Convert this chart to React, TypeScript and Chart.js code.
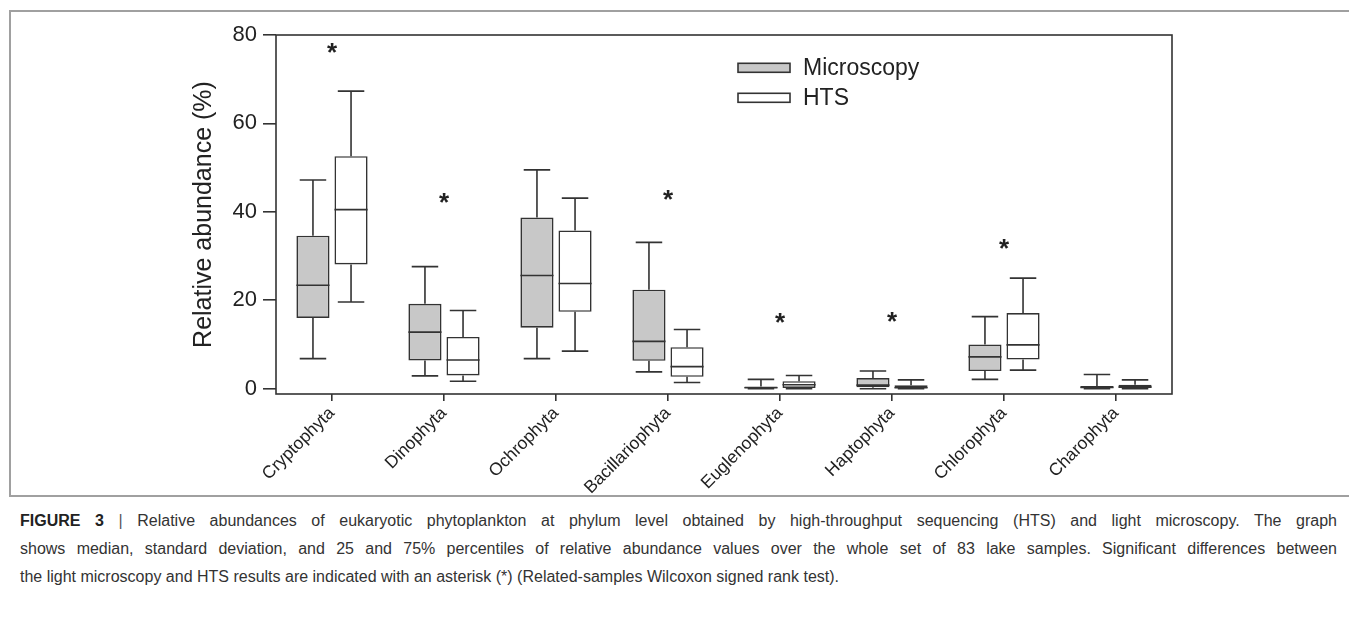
import React, { useEffect, useRef } from "react";
import { Chart, registerables } from "chart.js";
Chart.register(...registerables);

const categories = ["Cryptophyta", "Dinophyta", "Ochrophyta", "Bacillariophyta", "Euglenophyta", "Haptophyta", "Chlorophyta", "Charophyta"];
const yTicks = [0, 20, 40, 60, 80];
const seriesLabels = ["Microscopy", "HTS"];

const microMin = [6.8, 2.9, 6.8, 3.8, 0.0, 0.0, 2.1, 0.0];
const microQ1 = [16.0, 6.4, 13.8, 6.3, 0.0, 0.3, 4.0, 0.0];
const microMedian = [23.4, 12.8, 25.6, 10.7, 0.2, 0.8, 7.2, 0.3];
const microQ3 = [34.6, 19.2, 38.7, 22.4, 0.5, 2.4, 10.0, 0.6];
const microMax = [47.2, 27.6, 49.5, 33.1, 2.1, 4.0, 16.3, 3.2];

const htsMin = [19.6, 1.7, 8.5, 1.4, 0.0, 0.0, 4.2, 0.0];
const htsQ1 = [28.1, 3.0, 17.4, 2.7, 0.0, 0.0, 6.6, 0.0];
const htsMedian = [40.5, 6.5, 23.8, 5.0, 0.9, 0.2, 9.9, 0.4];
const htsQ3 = [52.6, 11.7, 35.8, 9.4, 1.7, 0.8, 17.1, 0.9];
const htsMax = [67.3, 17.7, 43.1, 13.4, 3.0, 2.0, 25.0, 2.0];

const asterisks = [77.3, 43.5, null, 44.2, 16.4, 16.5, 33.0, null];

const stats = [
  { min: microMin, q1: microQ1, med: microMedian, q3: microQ3, max: microMax },
  { min: htsMin, q1: htsQ1, med: htsMedian, q3: htsQ3, max: htsMax },
];

const INK = "#333333";
const FONT = "'Liberation Sans', Arial, sans-serif";

const boxPlugin = {
  id: "boxWhiskers",
  afterDatasetsDraw(chart: any) {
    const { ctx, scales } = chart;
    const y = scales.y;
    const x = scales.x;
    ctx.save();
    ctx.strokeStyle = INK;
    ctx.lineWidth = 1.6;
    chart.data.datasets.forEach((_ds: any, di: number) => {
      const meta = chart.getDatasetMeta(di);
      const s = stats[di];
      meta.data.forEach((bar: any, i: number) => {
        const { x: cx, width } = bar.getProps(["x", "width"], true);
        const half = width / 2;
        const cap = width * 0.4;
        const pMin = y.getPixelForValue(s.min[i]);
        const pQ1 = y.getPixelForValue(s.q1[i]);
        const pMed = y.getPixelForValue(s.med[i]);
        const pQ3 = y.getPixelForValue(s.q3[i]);
        const pMax = y.getPixelForValue(s.max[i]);
        ctx.beginPath();
        ctx.moveTo(cx, pQ3);
        ctx.lineTo(cx, pMax);
        ctx.moveTo(cx - cap, pMax);
        ctx.lineTo(cx + cap, pMax);
        ctx.moveTo(cx, pQ1);
        ctx.lineTo(cx, pMin);
        ctx.moveTo(cx - cap, pMin);
        ctx.lineTo(cx + cap, pMin);
        ctx.moveTo(cx - half, pMed);
        ctx.lineTo(cx + half, pMed);
        ctx.stroke();
      });
    });
    // asterisks
    const aSize = 26;
    ctx.fillStyle = "#222";
    ctx.font = `bold ${aSize}px ${FONT}`;
    ctx.textAlign = "center";
    ctx.textBaseline = "alphabetic";
    asterisks.forEach((v, i) => {
      if (v === null) return;
      const px = x.getPixelForValue(i);
      const py = y.getPixelForValue(v);
      ctx.fillText("*", px, py + 0.56 * aSize);
    });
    // legend
    const ca = chart.chartArea;
    const lx = ca.left + 462;
    const ly = ca.top + 28.3;
    chart.data.datasets.forEach((ds: any, di: number) => {
      const top = ly + di * 30;
      ctx.fillStyle = ds.backgroundColor;
      ctx.fillRect(lx, top, 52, 9);
      ctx.strokeStyle = INK;
      ctx.lineWidth = 1.6;
      ctx.strokeRect(lx, top, 52, 9);
      ctx.fillStyle = "#222";
      ctx.font = `23px ${FONT}`;
      ctx.textAlign = "left";
      ctx.textBaseline = "middle";
      ctx.fillText(ds.label, lx + 65, top + 5);
    });
    ctx.restore();
  },
  afterDraw(chart: any) {
    const { ctx, chartArea: ca } = chart;
    ctx.save();
    ctx.strokeStyle = INK;
    ctx.lineWidth = 1.6;
    ctx.strokeRect(ca.left, ca.top, ca.right - ca.left, ca.bottom - ca.top);
    ctx.restore();
  },
};

function App() {
  const ref = useRef<HTMLCanvasElement | null>(null);
  useEffect(() => {
    if (!ref.current) return;
    const chart = new Chart(ref.current, {
      type: "bar",
      data: {
        labels: categories,
        datasets: [
          {
            label: seriesLabels[0],
            data: microQ1.map((q, i) => [q, microQ3[i]]) as any,
            backgroundColor: "#c8c8c8",
            borderColor: INK,
            borderWidth: 1.6,
            borderSkipped: false,
          },
          {
            label: seriesLabels[1],
            data: htsQ1.map((q, i) => [q, htsQ3[i]]) as any,
            backgroundColor: "#ffffff",
            borderColor: INK,
            borderWidth: 1.6,
            borderSkipped: false,
          },
        ],
      },
      options: {
        animation: false,
        responsive: false,
        maintainAspectRatio: false,
        events: [],
        categoryPercentage: 0.68,
        barPercentage: 0.87,
        layout: { padding: { left: 178, right: 181, top: 23, bottom: 0 } },
        plugins: { legend: { display: false }, tooltip: { enabled: false } },
        scales: {
          x: {
            type: "category",
            offset: true,
            border: { display: false },
            grid: { display: true, offset: false, drawOnChartArea: false, drawTicks: true, tickLength: 7, color: INK, lineWidth: 1.6 },
            ticks: {
              autoSkip: false,
              maxRotation: 45,
              minRotation: 45,
              padding: 2,
              color: "#222",
              font: { family: FONT, size: 17.5 },
            },
            afterFit: (s: any) => {
              s.height = 102;
            },
          },
          y: {
            min: -1.2,
            max: 80,
            border: { display: false },
            grid: { display: true, drawOnChartArea: false, drawTicks: true, tickLength: 13, color: INK, lineWidth: 1.6 },
            ticks: { padding: 6, color: "#222", font: { family: FONT, size: 22 } },
            afterBuildTicks: (s: any) => {
              s.ticks = yTicks.map((v) => ({ value: v }));
            },
            afterFit: (s: any) => {
              s.width = 87;
            },
            title: {
              display: true,
              text: "Relative abundance (%)",
              color: "#222",
              padding: 0,
              font: { family: FONT, size: 25 },
            },
          },
        },
      },
      plugins: [boxPlugin],
    });
    return () => chart.destroy();
  }, []);

  const justified: React.CSSProperties = { textAlign: "justify", textAlignLast: "justify" } as any;

  return (
    <div style={{ position: "relative", width: 1341, height: 608 }}>
      <div
        style={{
          position: "absolute",
          left: 1,
          top: 2,
          width: 1346,
          height: 487,
          border: "2px solid #a0a0a0",
          boxSizing: "border-box",
        }}
      />
      <canvas ref={ref} width={1342} height={484} style={{ position: "absolute", left: 3, top: 4, width: 1342, height: 484 }} />
      <div
        style={{
          position: "absolute",
          left: 12,
          top: 499,
          width: 1317,
          fontFamily: FONT,
          fontSize: 16,
          lineHeight: "28px",
          color: "#333",
          whiteSpace: "nowrap",
        }}
      >
        <div style={justified}>
          <b style={{ color: "#222" }}>FIGURE 3</b> <span style={{ fontWeight: 300, color: "#555" }}>|</span> Relative abundances of eukaryotic phytoplankton at phylum level obtained by high-throughput sequencing (HTS) and light microscopy. The graph
        </div>
        <div style={justified}>shows median, standard deviation, and 25 and 75% percentiles of relative abundance values over the whole set of 83 lake samples. Significant differences between</div>
        <div>the light microscopy and HTS results are indicated with an asterisk (*) (Related-samples Wilcoxon signed rank test).</div>
      </div>
    </div>
  );
}

export default App;
